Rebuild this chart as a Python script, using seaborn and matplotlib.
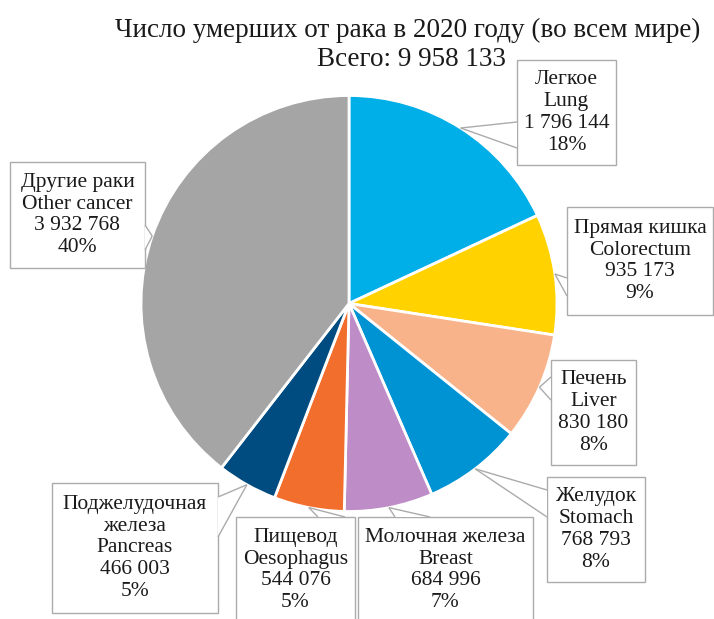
import matplotlib
matplotlib.use("Agg")
import matplotlib.pyplot as plt
from matplotlib.patches import Rectangle, Polygon
import numpy as np
import seaborn as sns

# Cancer deaths worldwide, 2020
names_ru = ["Легкое", "Прямая кишка", "Печень", "Желудок",
            "Молочная железа", "Пищевод", "Поджелудочная\nжелеза", "Другие раки"]
names_en = ["Lung", "Colorectum", "Liver", "Stomach",
            "Breast", "Oesophagus", "Pancreas", "Other cancer"]
deaths = [1796144, 935173, 830180, 768793, 684996, 544076, 466003, 3932768]
shares = ["18%", "9%", "8%", "8%", "7%", "5%", "5%", "40%"]
total_label = "9 958 133"
title_line = "Число умерших от рака в 2020 году (во всем мире)"

colors = ["#00AEE8", "#FFD200", "#F8B38A", "#0093D3",
          "#BE8CC6", "#F26E2C", "#004B7F", "#A5A5A5"]

sns.set_theme(style="white")
plt.rcParams["font.family"] = ["Liberation Serif", "DejaVu Serif"]
palette = sns.color_palette(colors)

W, H = 714, 619
fig = plt.figure(figsize=(W / 100, H / 100), dpi=100)
ax = fig.add_axes([0, 0, 1, 1])


def py(y):
    """pixel row (top-down) -> data y (bottom-up)"""
    return H - y


cx, cy, R = 349, py(303.5), 208
wedges, _ = ax.pie(deaths, colors=palette, startangle=90, counterclock=False,
                   center=(cx, cy), radius=R, frame=False,
                   wedgeprops=dict(edgecolor="white", linewidth=2))
ax.set_xlim(0, W)
ax.set_ylim(0, H)
ax.set_aspect("equal")
ax.axis("off")


def fmt(n):
    return f"{n:,}".replace(",", " ")


# label boxes: (x0, y0, x1, y1) in pixel rows, callout edge and its base span
boxes = [
    ((517, 60, 616, 165), "left", (122, 148)),
    ((567, 207, 713, 315), "left", (278, 296)),
    ((551, 360, 636, 465), "left", (377, 400)),
    ((547, 477, 645, 582), "left", (490, 517)),
    ((358, 517, 533, 623), "top", (395, 430)),
    ((236, 517, 355, 623), "top", (318, 345)),
    ((52, 483, 218, 613), "right", (497, 537)),
    ((10, 162, 145, 268), "right", (225, 250)),
]

edge_col = "#ABABAB"
for w, ru, en, val, pct, (box, side, span) in zip(
        wedges, names_ru, names_en, deaths, shares, boxes):
    x0, y0, x1, y1 = box
    ax.add_patch(Rectangle((x0, py(y1)), x1 - x0, y1 - y0, facecolor="white",
                           edgecolor=edge_col, linewidth=1.0, zorder=3))
    mid = np.deg2rad((w.theta1 + w.theta2) / 2)
    tip = (cx + R * np.cos(mid), cy + R * np.sin(mid))
    a, b = span
    if side == "left":
        base = [(x0, py(a)), (x0, py(b))]
    elif side == "right":
        base = [(x1, py(a)), (x1, py(b))]
    else:
        base = [(a, py(y0)), (b, py(y0))]
    ax.add_patch(Polygon([base[0], tip, base[1]], closed=True,
                         facecolor="white", edgecolor="none", zorder=4))
    for bp in base:
        ax.plot([bp[0], tip[0]], [bp[1], tip[1]], color=edge_col,
                linewidth=1.0, zorder=4, solid_capstyle="butt")
    txt = f"{ru}\n{en}\n{fmt(val)}\n{pct}"
    ax.text((x0 + x1) / 2, py((y0 + y1) / 2), txt, ha="center", va="center",
            fontsize=15.5, linespacing=1.2, color="#1a1a1a", zorder=5)

ax.text(408, py(30), title_line, ha="center", va="center",
        fontsize=19.5, color="#1a1a1a")
ax.text(411, py(59), f"Всего: {total_label}", ha="center", va="center",
        fontsize=19.5, color="#1a1a1a")

fig.savefig("out.png", dpi=100)
